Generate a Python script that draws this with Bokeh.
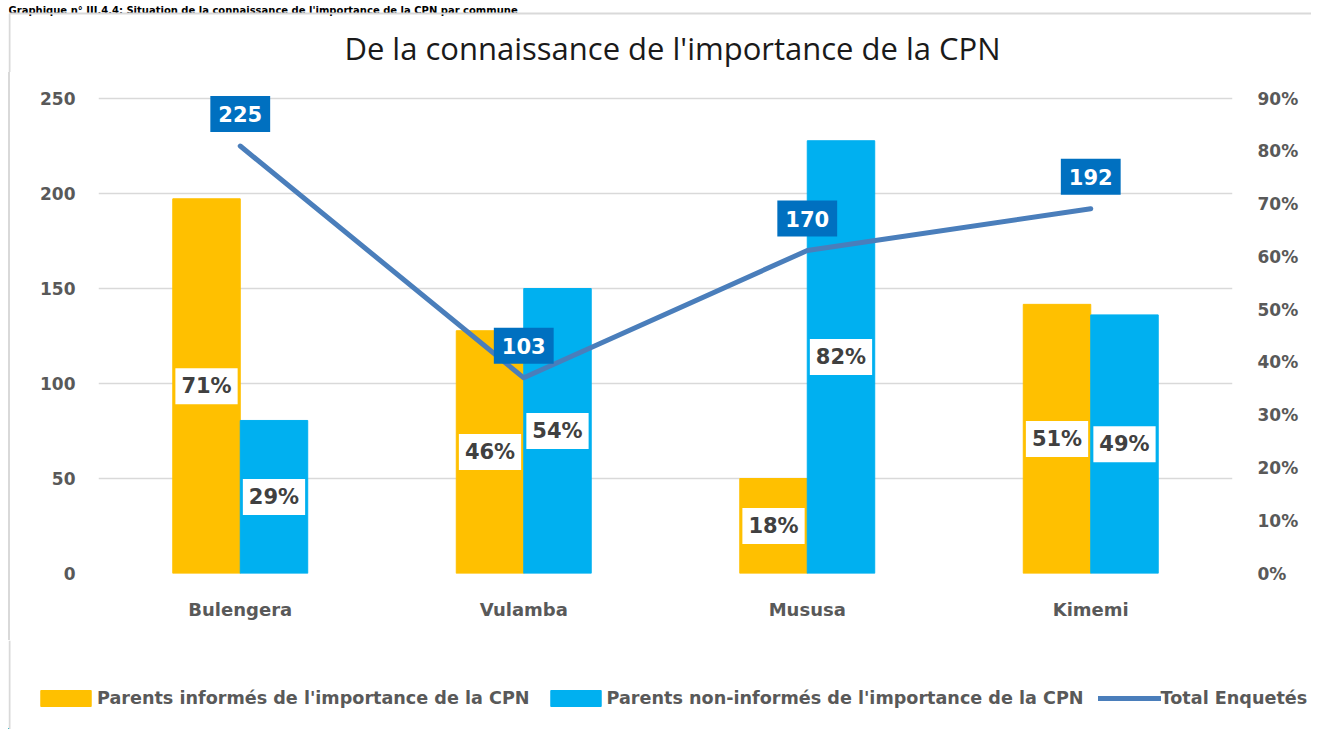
from bokeh.plotting import figure
from bokeh.models import (ColumnDataSource, Range1d, LinearAxis, FixedTicker,
                          NumeralTickFormatter, FactorRange, Legend, LegendItem)
from bokeh.transform import dodge
from bokeh.layouts import column
from bokeh.core.properties import value
from bokeh.embed import file_html
from bokeh.resources import INLINE

# ---- data ----
communes = ["Bulengera", "Vulamba", "Mususa", "Kimemi"]
informes = [0.71, 0.46, 0.18, 0.51]
non_informes = [0.29, 0.54, 0.82, 0.49]
total_enquetes = [225, 103, 170, 192]
left_ticks = [0, 50, 100, 150, 200, 250]
right_ticks = [0.0, 0.1, 0.2, 0.3, 0.4, 0.5, 0.6, 0.7, 0.8, 0.9]

title_txt = "De la connaissance de l'importance de la CPN"
caption_txt = "Graphique n° III.4.4: Situation de la connaissance de l'importance de la CPN par commune"
lbl_inf = "Parents informés de l'importance de la CPN"
lbl_non = "Parents non-informés de l'importance de la CPN"
lbl_tot = "Total Enquetés"

FONT = "DejaVu Sans"
YELLOW = "#FFC000"
BLUE = "#00B0F0"
LINE = "#4A7EBB"
BOX = "#0070C0"
GRAY = "#595959"
BORDER = "#d9d9d9"

src = ColumnDataSource(dict(
    c=communes,
    inf=informes,
    non=non_informes,
    inf_mid=[v / 2 for v in informes],
    non_mid=[v / 2 for v in non_informes],
    inf_lbl=[f"{round(v*100)}%" for v in informes],
    non_lbl=[f"{round(v*100)}%" for v in non_informes],
    tot=total_enquetes,
    tot_lbl=[str(v) for v in total_enquetes],
))

W = 1303          # outer width
WC = W - 2        # canvas width of the figure with a css left border
HEAD_H = 72
MAIN_H = 568
LEG_H = 89
Y_END = 253.7     # a little headroom above the 250 gridline for the value boxes

# ---- header strip: caption, chart border and title ----
head = figure(width=W, height=HEAD_H, x_range=Range1d(0, W), y_range=Range1d(HEAD_H, 0),
              toolbar_location=None, output_backend="svg", min_border=0,
              x_axis_type=None, y_axis_type=None, outline_line_color=None, frame_align=False)
head.grid.visible = False
head.text(x=[0], y=[9.5], text=[caption_txt], text_font=value(FONT),
          text_font_style="bold", text_font_size="10px", text_color="#000000",
          text_baseline="alphabetic", text_align="left")
head.line([1, W], [13, 13], line_color=BORDER, line_width=2)
head.line([1, 1], [13, HEAD_H], line_color=BORDER, line_width=2)
head.text(x=[664], y=[47], text=[title_txt], text_font=value("Open Sans"),
          text_font_size="31px", text_color="#1a1a1a",
          text_baseline="middle", text_align="center")

# ---- main chart ----
p = figure(width=WC, height=MAIN_H, x_range=FactorRange(*communes), y_range=Range1d(0, Y_END),
           toolbar_location=None, output_backend="svg", frame_align=False,
           min_border_left=88, min_border_right=79, min_border_top=19, min_border_bottom=67,
           outline_line_color=None, background_fill_color="white", border_fill_color="white")
p.extra_y_ranges = {"pct": Range1d(0, 0.9 * Y_END / 250)}

p.xgrid.visible = False
p.ygrid.grid_line_color = BORDER
p.ygrid.grid_line_width = 1.5

ax = p.yaxis[0]
ax.ticker = FixedTicker(ticks=left_ticks)
ax.axis_line_color = None
ax.major_tick_line_color = None
ax.minor_tick_line_color = None
ax.major_label_text_font = FONT
ax.major_label_text_font_style = "bold"
ax.major_label_text_font_size = "17px"
ax.major_label_text_color = GRAY
ax.major_label_standoff = 17

rax = LinearAxis(y_range_name="pct", ticker=FixedTicker(ticks=right_ticks),
                 formatter=NumeralTickFormatter(format="0%"))
rax.axis_line_color = None
rax.major_tick_line_color = None
rax.minor_tick_line_color = None
rax.major_label_text_font = FONT
rax.major_label_text_font_style = "bold"
rax.major_label_text_font_size = "17px"
rax.major_label_text_color = GRAY
rax.major_label_standoff = 19
p.add_layout(rax, "right")

xa = p.xaxis[0]
xa.axis_line_color = None
xa.major_tick_line_color = None
xa.minor_tick_line_color = None
xa.major_label_text_font = FONT
xa.major_label_text_font_style = "bold"
xa.major_label_text_font_size = "18px"
xa.major_label_text_color = GRAY
xa.major_label_standoff = 19

bw = 0.238
p.vbar(x=dodge("c", -bw / 2, range=p.x_range), top="inf", width=bw, source=src,
       y_range_name="pct", fill_color=YELLOW, line_color=YELLOW)
p.vbar(x=dodge("c", bw / 2, range=p.x_range), top="non", width=bw, source=src,
       y_range_name="pct", fill_color=BLUE, line_color=BLUE)
p.line(x="c", y="tot", source=src, line_color=LINE, line_width=5,
       line_cap="round", line_join="round")

common = dict(text_font=value(FONT), text_font_style="bold", text_font_size="21px",
              text_align="center", text_baseline="middle")
p.text(x=dodge("c", -bw / 2, range=p.x_range), y="inf_mid", text="inf_lbl",
       source=src, y_range_name="pct", text_color="#404040",
       background_fill_color="white", padding=6, **common)
p.text(x=dodge("c", bw / 2, range=p.x_range), y="non_mid", text="non_lbl",
       source=src, y_range_name="pct", text_color="#404040",
       background_fill_color="white", padding=6, **common)
p.text(x="c", y="tot", text="tot_lbl", source=src, y_offset=-32,
       text_color="white", background_fill_color=BOX, padding=(8, 10), **common)

# ---- legend strip ----
leg = figure(width=W, height=LEG_H, x_range=Range1d(0, W), y_range=Range1d(0, LEG_H),
             toolbar_location=None, output_backend="svg", min_border=0, frame_align=False,
             x_axis_type=None, y_axis_type=None, outline_line_color=None)
leg.grid.visible = False
leg.line([1, 1], [0, LEG_H], line_color=BORDER, line_width=2)
# swatch carriers, placed outside the visible range
off = ColumnDataSource(dict(x=[-50, -40], top=[1, 1], y=[0.5, 0.5]))
d_inf = leg.vbar(x="x", top="top", width=1, source=off, fill_color=YELLOW, line_color=YELLOW)
d_non = leg.vbar(x="x", top="top", width=1, source=off, fill_color=BLUE, line_color=BLUE)
d_tot = leg.line(x="x", y="y", source=off, line_color=LINE, line_width=5, line_cap="round")

legend = Legend(items=[LegendItem(label=lbl_inf, renderers=[d_inf]),
                       LegendItem(label=lbl_non, renderers=[d_non]),
                       LegendItem(label=lbl_tot, renderers=[d_tot])],
                orientation="horizontal", location=(26, 21),
                glyph_width=63, glyph_height=20, label_standoff=0, spacing=14,
                padding=0, margin=0, border_line_color=None, background_fill_alpha=0,
                label_text_font=FONT, label_text_font_style="bold",
                label_text_font_size="17.6px", label_text_color=GRAY)
leg.add_layout(legend, "center")

p.styles = {"border-left": f"2px solid {BORDER}"}

layout = column(head, p, leg, spacing=0)
layout.styles = {"margin-left": "8px"}
open("out.html", "w").write(file_html(layout, INLINE))
